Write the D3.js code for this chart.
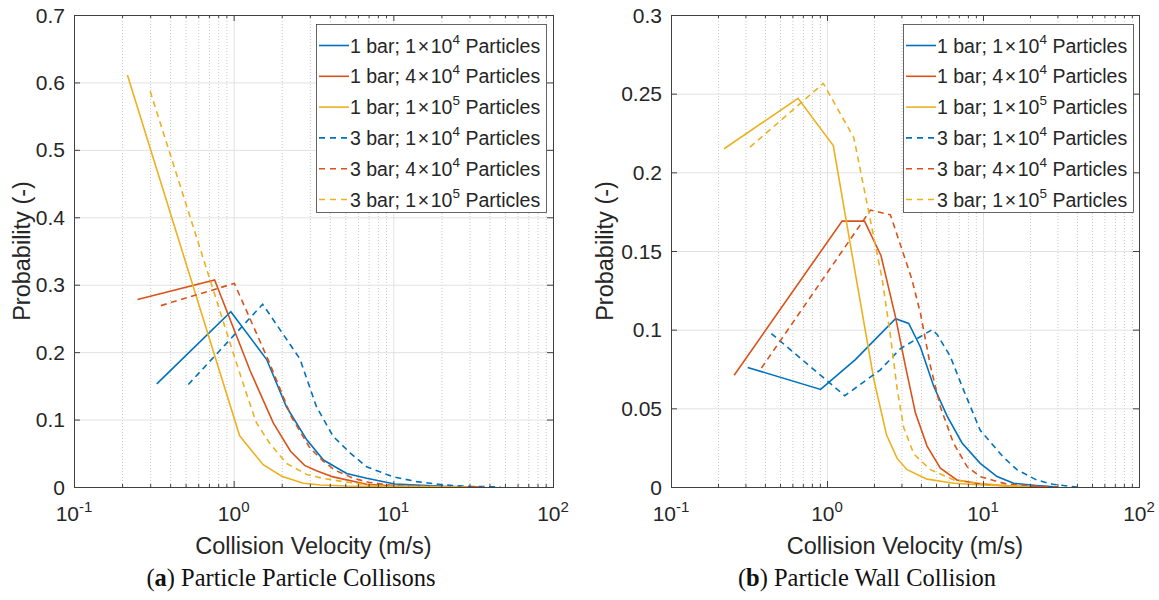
<!DOCTYPE html>
<html>
<head>
<meta charset="utf-8">
<script src="https://cdn.jsdelivr.net/npm/d3@7"></script>
<style>
  body { margin: 0; background: #fff; }
  text { font-family: "Liberation Sans", Arial, sans-serif; fill: #262626; }
  .cap { font-family: "Liberation Serif", "DejaVu Serif", serif; fill: #111; }
</style>
</head>
<body>
<div id="chart"></div>
<script>
// ---- data: panel (a) particle-particle collisions ----
const ppVel_1bar_1e4 = [0.33, 0.96, 1.61, 2.14, 2.87, 3.65, 5.1, 6.8, 10.2, 20.6, 30];
const ppProb_1bar_1e4 = [0.153, 0.26, 0.189, 0.119, 0.070, 0.040, 0.020, 0.013, 0.0045, 0.001, 0];
const ppVel_1bar_4e4 = [0.25, 0.76, 1.27, 1.77, 2.27, 2.78, 3.3, 4.2, 6.8, 10, 20, 35];
const ppProb_1bar_4e4 = [0.278, 0.307, 0.172, 0.095, 0.053, 0.032, 0.024, 0.015, 0.004, 0.0015, 0.0003, 0];
const ppVel_1bar_1e5 = [0.216, 1.09, 1.53, 2.0, 2.73, 3.5, 5, 10, 30];
const ppProb_1bar_1e5 = [0.611, 0.076, 0.033, 0.016, 0.0055, 0.003, 0.0015, 0.0005, 0];
const ppVel_3bar_1e4 = [0.52, 1.52, 2.6, 3.3, 4.2, 5.4, 6.8, 10, 14, 20.6, 30, 47];
const ppProb_3bar_1e4 = [0.152, 0.271, 0.19, 0.119, 0.075, 0.050, 0.030, 0.015, 0.008, 0.003, 0.001, 0];
const ppVel_3bar_4e4 = [0.35, 1.01, 1.65, 2.3, 3.0, 3.65, 4.3, 5.6, 7, 10, 20, 37];
const ppProb_3bar_4e4 = [0.269, 0.302, 0.188, 0.104, 0.058, 0.038, 0.025, 0.013, 0.007, 0.002, 0.0005, 0];
const ppVel_3bar_1e5 = [0.30, 0.99, 1.2, 1.39, 1.68, 2.14, 2.9, 3.6, 4.85, 7, 10, 30];
const ppProb_3bar_1e5 = [0.587, 0.200, 0.139, 0.095, 0.065, 0.035, 0.018, 0.013, 0.008, 0.003, 0.001, 0];

// ---- data: panel (b) particle-wall collisions ----
const pwVel_1bar_1e4 = [0.31, 0.91, 1.52, 2.0, 2.75, 3.34, 3.97, 4.83, 5.89, 7.34, 9.6, 12.3, 15.7, 22, 30];
const pwProb_1bar_1e4 = [0.076, 0.062, 0.081, 0.093, 0.107, 0.104, 0.089, 0.064, 0.045, 0.028, 0.015, 0.0066, 0.0024, 0.001, 0];
const pwVel_1bar_4e4 = [0.254, 0.73, 1.25, 1.74, 2.22, 2.75, 3.18, 3.69, 4.38, 5.33, 6.8, 9.6, 15, 25];
const pwProb_1bar_4e4 = [0.071, 0.136, 0.169, 0.169, 0.147, 0.108, 0.077, 0.047, 0.026, 0.012, 0.0045, 0.002, 0.0005, 0];
const pwVel_1bar_1e5 = [0.219, 0.652, 1.097, 1.53, 2.0, 2.41, 2.82, 3.26, 4.38, 6.5, 10, 20];
const pwProb_1bar_1e5 = [0.215, 0.247, 0.217, 0.134, 0.068, 0.033, 0.018, 0.011, 0.005, 0.0024, 0.0013, 0];
const pwVel_3bar_1e4 = [0.44, 1.30, 2.2, 2.96, 4.72, 5.08, 6.17, 7.34, 9.6, 13.5, 16.5, 22, 28, 40];
const pwProb_3bar_1e4 = [0.0975, 0.058, 0.0745, 0.088, 0.100, 0.097, 0.083, 0.064, 0.036, 0.019, 0.011, 0.0045, 0.0017, 0];
const pwVel_3bar_4e4 = [0.38, 1.9, 2.55, 3.5, 3.98, 4.6, 5.33, 6.46, 7.9, 9.6, 14, 20, 30];
const pwProb_3bar_4e4 = [0.0756, 0.176, 0.173, 0.132, 0.11, 0.077, 0.051, 0.028, 0.013, 0.0066, 0.002, 0.0008, 0];
const pwVel_3bar_1e5 = [0.321, 0.947, 1.486, 2.26, 2.55, 2.82, 3.1, 3.6, 4.6, 6.5, 10, 20];
const pwProb_3bar_1e5 = [0.216, 0.2565, 0.222, 0.132, 0.096, 0.062, 0.038, 0.021, 0.011, 0.0045, 0.002, 0];

// legend texts
const legendBar = ["1 bar", "1 bar", "1 bar", "3 bar", "3 bar", "3 bar"];
const legendMant = ["1", "4", "1", "1", "4", "1"];
const legendExp = ["4", "4", "5", "4", "4", "5"];

const xMajor = [0.1, 1, 10, 100];
const xMajorExp = ["-1", "0", "1", "2"];
const ppYTicks = [0, 0.1, 0.2, 0.3, 0.4, 0.5, 0.6, 0.7];
const pwYTicks = [0, 0.05, 0.1, 0.15, 0.2, 0.25, 0.3];

// matlab default colours, solid = 1 bar, dashed = 3 bar
const colors = ["#0072BD", "#D95319", "#EDB120", "#0072BD", "#D95319", "#EDB120"];
const dashed = [false, false, false, true, true, true];

const svg = d3.select("#chart").append("svg")
  .attr("width", 1159)
  .attr("height", 600);

function drawPanel(p, idx) {
  let x = d3.scaleLog().domain([0.1, 100]).range([p.left, p.right]);
  let y = d3.scaleLinear().domain([0, p.yTicks[p.yTicks.length - 1]]).range([p.bottom, p.top]);
  let h = p.bottom - p.top;
  let minor = x.ticks().filter(d => !xMajor.some(m => Math.abs(m - d) < 1e-9));

  let g = svg.append("g");

  // grid
  let gMinor = g.append("g")
    .attr("transform", "translate(0," + p.bottom + ")")
    .call(d3.axisBottom(x).tickValues(minor).tickSize(-h).tickFormat(""));
  gMinor.select(".domain").remove();
  gMinor.selectAll("line").attr("stroke", "#c8c8c8").attr("stroke-dasharray", "1,2");

  let gMaj = g.append("g")
    .attr("transform", "translate(0," + p.bottom + ")")
    .call(d3.axisBottom(x).tickValues(xMajor.slice(1, 3)).tickSize(-h).tickFormat(""));
  gMaj.select(".domain").remove();
  gMaj.selectAll("line").attr("stroke", "#e2e2e2");

  let gy = g.append("g")
    .attr("transform", "translate(" + p.left + ",0)")
    .call(d3.axisLeft(y).tickValues(p.yTicks.slice(1, -1)).tickSize(-(p.right - p.left)).tickFormat(""));
  gy.select(".domain").remove();
  gy.selectAll("line").attr("stroke", "#e2e2e2");

  // lines
  svg.append("clipPath").attr("id", "clip" + idx)
    .append("rect")
    .attr("x", p.left).attr("y", p.top)
    .attr("width", p.right - p.left).attr("height", h);

  let line = d3.line().x(d => x(d[0])).y(d => y(d[1]));
  p.series.forEach((s, i) => {
    g.append("path")
      .datum(d3.zip(s[0], s[1]))
      .attr("clip-path", "url(#clip" + idx + ")")
      .attr("d", line)
      .attr("fill", "none")
      .attr("stroke", colors[i])
      .attr("stroke-width", 1.6)
      .attr("stroke-dasharray", dashed[i] ? "6,4.5" : null);
  });

  // ticks on all four sides, pointing inwards
  const tickAxes = [
    [d3.axisBottom(x).tickValues(xMajor).tickSize(-6), "translate(0," + p.bottom + ")"],
    [d3.axisBottom(x).tickValues(minor).tickSize(-3), "translate(0," + p.bottom + ")"],
    [d3.axisTop(x).tickValues(xMajor).tickSize(-6), "translate(0," + p.top + ")"],
    [d3.axisTop(x).tickValues(minor).tickSize(-3), "translate(0," + p.top + ")"],
    [d3.axisLeft(y).tickValues(p.yTicks).tickSize(-6), "translate(" + p.left + ",0)"],
    [d3.axisRight(y).tickValues(p.yTicks).tickSize(-6), "translate(" + p.right + ",0)"]
  ];
  tickAxes.forEach(a => {
    let t = g.append("g").attr("transform", a[1]).call(a[0].tickFormat(""));
    t.select(".domain").remove();
    t.selectAll("line").attr("stroke", "#404040");
  });

  g.append("rect")
    .attr("x", p.left + 0.5).attr("y", p.top + 0.5)
    .attr("width", p.right - p.left).attr("height", h)
    .attr("fill", "none")
    .attr("stroke", "#404040");

  // tick labels
  g.selectAll(".ylab").data(p.yTicks).enter().append("text")
    .attr("x", p.left - 9)
    .attr("y", d => y(d))
    .attr("dy", "0.36em")
    .attr("text-anchor", "end")
    .style("font-size", "21px")
    .text(d => String(+d.toFixed(2)));

  let xl = g.selectAll(".xlab").data(xMajor).enter().append("text")
    .attr("x", d => x(d))
    .attr("y", 521)
    .attr("text-anchor", "middle")
    .style("font-size", "21px");
  xl.append("tspan").text("10");
  xl.append("tspan").attr("dy", -9).style("font-size", "15px").text((d, i) => xMajorExp[i]);

  // axis titles
  g.append("text")
    .attr("x", (p.left + p.right) / 2)
    .attr("y", 554)
    .attr("text-anchor", "middle")
    .style("font-size", "23.5px")
    .text("Collision Velocity (m/s)");

  g.append("text")
    .attr("transform", "translate(" + p.ylabX + "," + (p.top + p.bottom) / 2 + ") rotate(-90)")
    .attr("text-anchor", "middle")
    .style("font-size", "23.5px")
    .text("Probability (-)");

  // legend
  let lg = g.append("g").attr("transform", "translate(" + p.legX + "," + p.legY + ")");
  lg.append("rect")
    .attr("x", 0.5).attr("y", 0.5)
    .attr("width", 230).attr("height", 188)
    .attr("fill", "#fff")
    .attr("stroke", "#404040")
    .attr("stroke-width", 0.8);

  legendBar.forEach((b, i) => {
    let cy = 21.5 + i * 30.8;
    lg.append("line")
      .attr("x1", 3).attr("x2", 33)
      .attr("y1", cy).attr("y2", cy)
      .attr("stroke", colors[i])
      .attr("stroke-width", 1.6)
      .attr("stroke-dasharray", dashed[i] ? "6,5" : null);
    let t = lg.append("text")
      .attr("x", 34)
      .attr("y", cy + 7)
      .style("font-size", "19.5px");
    t.append("tspan").text(b + "; " + legendMant[i] + "\u200a\u00d7\u200a10");
    t.append("tspan").attr("dy", -9).style("font-size", "13.5px").text(legendExp[i]);
    t.append("tspan").attr("dy", 9).text(" Particles");
  });

  // caption
  let cap = svg.append("text")
    .attr("class", "cap")
    .attr("x", p.capX)
    .attr("y", 586)
    .attr("text-anchor", "middle")
    .style("font-size", "24.5px");
  cap.append("tspan").text("(");
  cap.append("tspan").style("font-weight", "bold").text(p.capLetter);
  cap.append("tspan").text(") " + p.caption);
}

const panels = [
  {
    left: 74, right: 553, top: 15, bottom: 487,
    yTicks: ppYTicks, ylabX: 30, legX: 316, legY: 24, capX: 291,
    capLetter: "a", caption: "Particle Particle Collisons",
    series: [
      [ppVel_1bar_1e4, ppProb_1bar_1e4], [ppVel_1bar_4e4, ppProb_1bar_4e4], [ppVel_1bar_1e5, ppProb_1bar_1e5],
      [ppVel_3bar_1e4, ppProb_3bar_1e4], [ppVel_3bar_4e4, ppProb_3bar_4e4], [ppVel_3bar_1e5, ppProb_3bar_1e5]
    ]
  },
  {
    left: 671, right: 1139, top: 15, bottom: 487,
    yTicks: pwYTicks, ylabX: 613, legX: 903, legY: 24, capX: 867,
    capLetter: "b", caption: "Particle Wall Collision",
    series: [
      [pwVel_1bar_1e4, pwProb_1bar_1e4], [pwVel_1bar_4e4, pwProb_1bar_4e4], [pwVel_1bar_1e5, pwProb_1bar_1e5],
      [pwVel_3bar_1e4, pwProb_3bar_1e4], [pwVel_3bar_4e4, pwProb_3bar_4e4], [pwVel_3bar_1e5, pwProb_3bar_1e5]
    ]
  }
];

panels.forEach(drawPanel);
</script>
</body>
</html>
